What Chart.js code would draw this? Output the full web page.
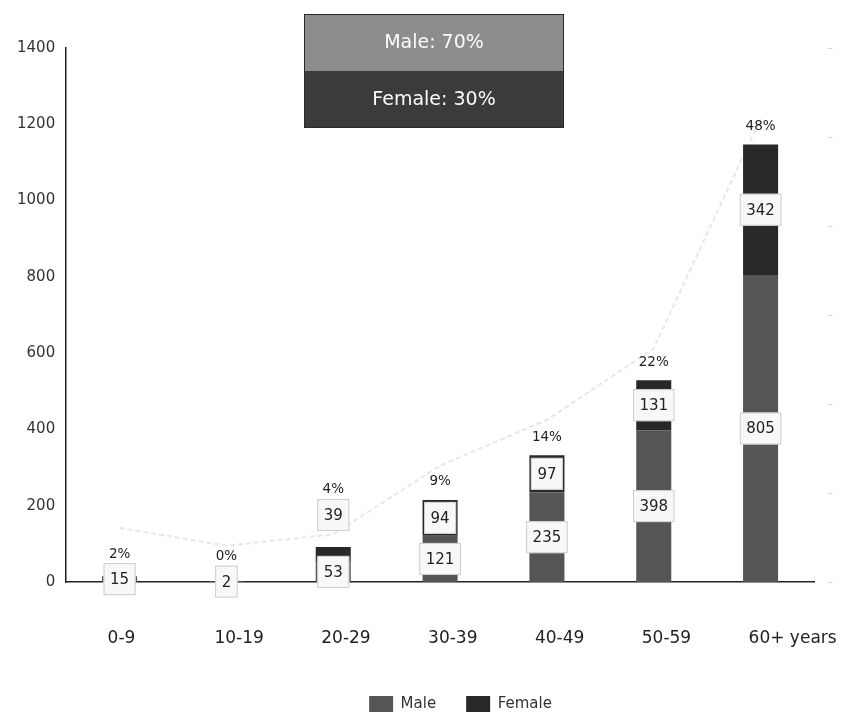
<!DOCTYPE html>
<html>
<head>
<meta charset="utf-8">
<script src="https://cdn.jsdelivr.net/npm/chart.js@4.4.1/dist/chart.umd.min.js"></script>
<style>
  html, body { margin: 0; padding: 0; background: #fff; }
</style>
</head>
<body>
<canvas id="ageChart" width="858" height="713"></canvas>
<script>
// data
const ageGroups = ['0-9', '10-19', '20-29', '30-39', '40-49', '50-59', '60+ years'];
const maleCounts = [15, 2, 53, 121, 235, 398, 805];
const femaleCounts = [0, 0, 39, 94, 97, 131, 342];
const shareLabels = ['2%', '0%', '4%', '9%', '14%', '22%', '48%'];
const ghostLine = [142, 95, 125, 305, 425, 612, 1215];
const summaryLabels = ['Male: 70%', 'Female: 30%'];

const FONT = '"DejaVu Sans", Verdana, sans-serif';

function drawBox(ctx, value, x, cy) {
    ctx.font = '15px ' + FONT;
    const text = String(value);
    const w = ctx.measureText(text).width + 13;
    const h = 32;
    const left = x - w / 2, top = cy - h / 2;
    ctx.fillStyle = '#f8f8f8';
    ctx.fillRect(left, top, w, h);
    ctx.strokeStyle = '#cdcdcd';
    ctx.lineWidth = 1;
    ctx.strokeRect(left + 0.5, top + 0.5, w - 1, h - 1);
    ctx.fillStyle = '#222';
    ctx.fillText(text, x, cy + 1);
    return { top: top, bottom: top + h };
}

const valueLabels = {
    id: 'valueLabels',
    afterDatasetsDraw(chart) {
        const ctx = chart.ctx;
        const male = chart.getDatasetMeta(0).data;
        const female = chart.getDatasetMeta(1).data;
        ctx.save();
        ctx.textAlign = 'center';
        ctx.textBaseline = 'middle';
        ageGroups.forEach((g, i) => {
            const m = male[i], f = female[i];
            const mBox = drawBox(ctx, maleCounts[i], m.x, (m.y + m.base) / 2);
            let boxTop = mBox.top;
            if (femaleCounts[i] > 0) {
                let cy = (f.y + f.base) / 2;
                // too small to hold its label: lift it above the bar
                if (cy + 16 > mBox.top) cy = f.y - 32;
                const fBox = drawBox(ctx, femaleCounts[i], f.x, cy);
                boxTop = Math.min(boxTop, fBox.top);
            }
            const barTop = femaleCounts[i] > 0 ? f.y : m.y;
            const py = Math.min(barTop - 18, boxTop - 9);
            ctx.font = '13.5px ' + FONT;
            ctx.fillStyle = '#222';
            ctx.fillText(shareLabels[i], m.x, py);
        });
        ctx.restore();
    }
};

const summaryBox = {
    id: 'summaryBox',
    afterDraw(chart) {
        const ctx = chart.ctx;
        const left = 304, width = 260, rowH = 57, top = 14;
        const fills = ['#8d8d8d', '#3b3b3b'];
        ctx.save();
        ctx.textAlign = 'center';
        ctx.textBaseline = 'middle';
        ctx.font = '19px ' + FONT;
        summaryLabels.forEach((txt, i) => {
            ctx.fillStyle = fills[i];
            ctx.fillRect(left, top + i * rowH, width, rowH);
            ctx.fillStyle = '#fafafa';
            ctx.fillText(txt, left + width / 2, top + i * rowH + rowH / 2 + 1);
        });
        ctx.strokeStyle = '#2a2a2a';
        ctx.lineWidth = 1;
        ctx.strokeRect(left + 0.5, top + 0.5, width - 1, rowH * 2 - 1);
        ctx.restore();
    }
};

// the printed legend sits right of centre
const legendShift = {
    id: 'legendShift',
    afterLayout(chart) {
        chart.legend.left += 34;
        chart.legend.right += 34;
    }
};

new Chart(document.getElementById('ageChart').getContext('2d'), {
    type: 'bar',
    data: {
        labels: ageGroups,
        datasets: [{
            label: 'Male',
            data: maleCounts,
            backgroundColor: '#555555',
            barPercentage: 0.41,
            categoryPercentage: 0.8,
            order: 1
        }, {
            label: 'Female',
            data: femaleCounts,
            backgroundColor: '#282828',
            barPercentage: 0.41,
            categoryPercentage: 0.8,
            order: 1
        }, {
            type: 'line',
            label: 'ghost',
            data: ghostLine,
            stack: 'ghost',
            borderColor: 'rgba(195, 195, 195, 0.4)',
            borderWidth: 2,
            borderDash: [5, 3],
            pointRadius: 0,
            order: 3
        }]
    },
    options: {
        responsive: false,
        animation: false,
        layout: { padding: { top: 48, left: 6, right: 11, bottom: -9 } },
        plugins: {
            legend: {
                position: 'bottom',
                labels: {
                    filter: item => item.datasetIndex < 2,
                    boxWidth: 24,
                    boxHeight: 16,
                    padding: 30,
                    color: '#333',
                    font: { family: FONT, size: 15 }
                }
            },
            tooltip: { enabled: false }
        },
        scales: {
            x: {
                stacked: true,
                grid: { display: false, drawTicks: false },
                border: { color: '#222', width: 1.5 },
                ticks: {
                    align: 'start',
                    labelOffset: -12,
                    padding: 46,
                    color: '#222',
                    font: { family: FONT, size: 17 }
                },
                afterFit: s => {
                    s.height = 84;
                    s.paddingLeft = 0;
                    s.paddingRight = 0;
                }
            },
            y: {
                stacked: true,
                min: 0,
                max: 1400,
                grid: { display: false, drawTicks: false },
                border: { color: '#222', width: 1.5 },
                ticks: {
                    stepSize: 200,
                    padding: 11,
                    color: '#333',
                    font: { family: FONT, size: 15 },
                    callback: v => String(v)
                }
            },
            y1: {
                position: 'right',
                min: 0,
                max: 60,
                grid: { display: false, drawTicks: false },
                border: { display: false },
                ticks: {
                    stepSize: 10,
                    padding: 14,
                    color: '#c8c8c8',
                    font: { family: FONT, size: 10 },
                    callback: () => '–'
                }
            }
        }
    },
    plugins: [valueLabels, summaryBox, legendShift]
});
</script>
</body>
</html>
